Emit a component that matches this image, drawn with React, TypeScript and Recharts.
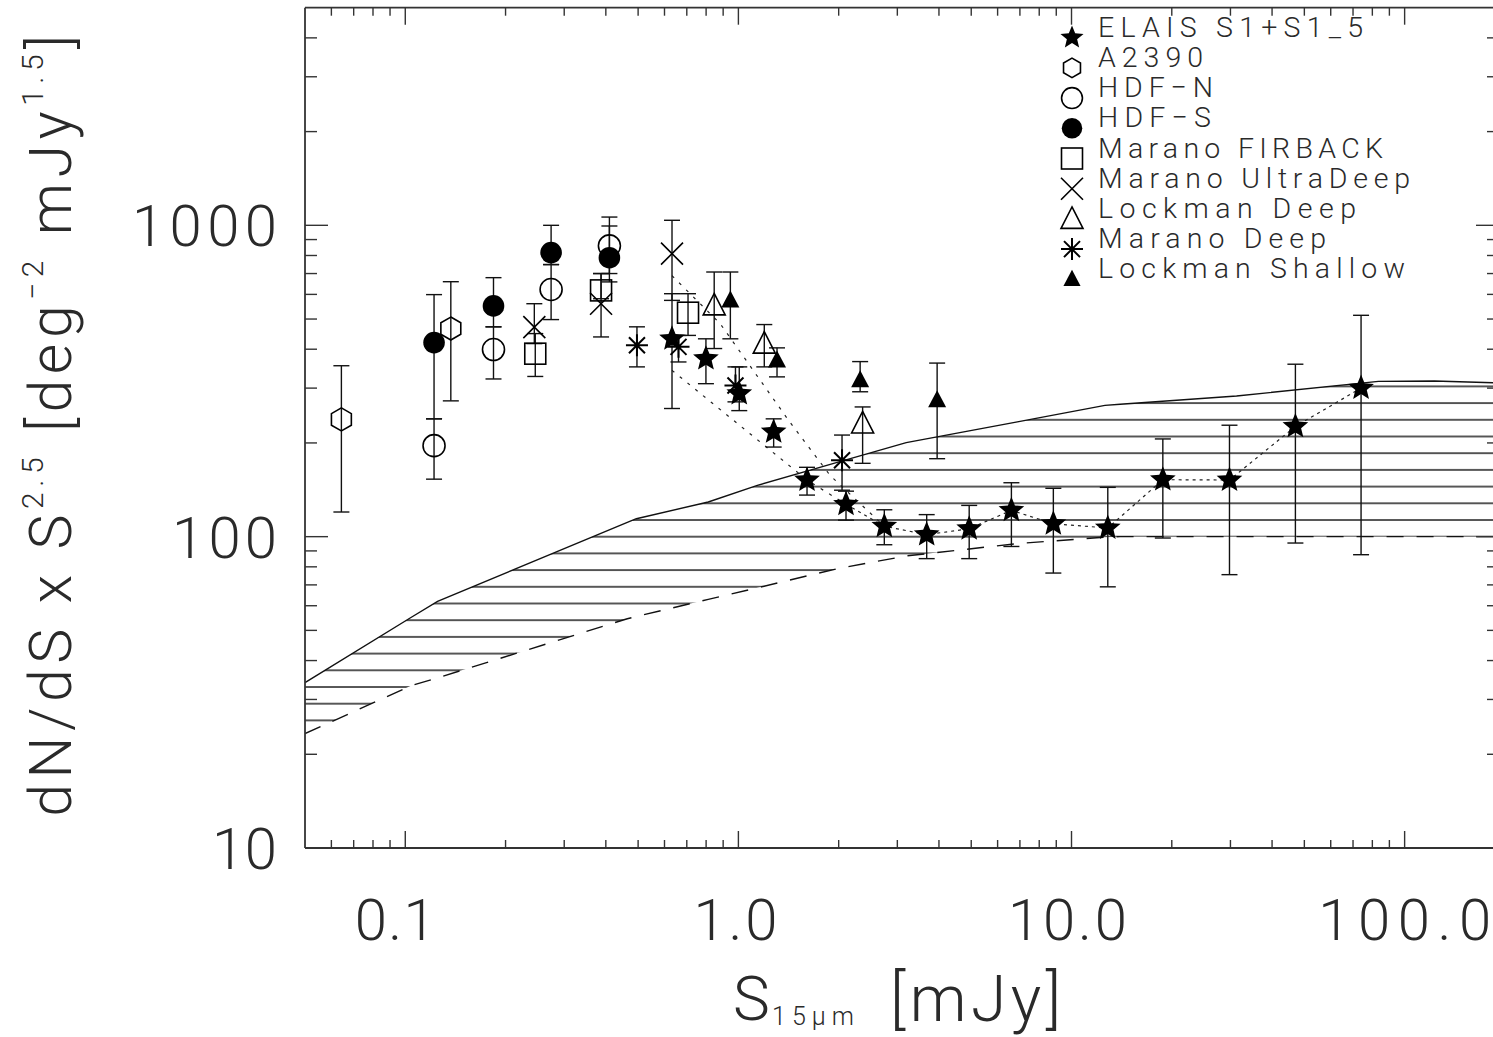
import React from 'react';
import { ComposedChart, XAxis, YAxis, Scatter, Line, Area, ErrorBar } from 'recharts';

// ---------------- data ----------------
const ELAIS_S = [0.632, 0.799, 1.006, 1.276, 1.607, 2.104, 2.742, 3.675, 4.93, 6.6, 8.82, 12.85, 18.8, 29.8, 47.0, 74.0];
const ELAIS_N = [432, 373, 288, 217, 152, 127, 108, 101.5, 106, 121.5, 110, 106.6, 152.4, 152, 226, 300];
const ELAIS_LO = [258, 310, 254, 194, 136, 113, 94.2, 85, 85, 93, 76.4, 69, 99, 75.5, 95.4, 87.5];
const ELAIS_HI = [603, 432, 351, 239, 167, 140, 122, 117.7, 126, 149, 143, 144, 206, 228, 358, 514];
const ELAIS_LINE_FROM = 5; // dotted connector starts at this ELAIS bin

const A2390_S = [0.0643, 0.137];
const A2390_N = [238, 466];
const A2390_LO = [120, 273];
const A2390_HI = [354, 659];

const HDFN_S = [0.122, 0.184, 0.274, 0.41];
const HDFN_N = [196, 399, 622, 859];
const HDFN_LO = [153, 321, 498, 700];
const HDFN_HI = [239, 472, 748, 1063];

const HDFS_S = [0.122, 0.184, 0.274, 0.41];
const HDFS_N = [420, 551, 817, 787];
const HDFS_LO = [239, 472, 748, 658];
const HDFS_HI = [599, 679, 1000, 995];

const FIRBACK_S = [0.2456, 0.387, 0.706];
const FIRBACK_N = [387, 618, 524];
const FIRBACK_LO = [327, 581, 443];
const FIRBACK_HI = [449, 700, 603];

const ULTRA_S = [0.244, 0.387, 0.632];
const ULTRA_N = [471, 560, 811];
const ULTRA_LO = [417, 438, 574];
const ULTRA_HI = [560, 700, 1038];

const LDEEP_S = [0.846, 1.196, 2.36];
const LDEEP_N = [553, 417, 231];
const LDEEP_LO = [402, 351, 172];
const LDEEP_HI = [708, 480, 261];

const MDEEP_S = [0.496, 0.661, 0.98, 2.047];
const MDEEP_N = [412, 407, 306, 176];
const MDEEP_LO = [351, 364, 271, 141];
const MDEEP_HI = [472, 443, 351, 212];

const LSHAL_S = [0.946, 1.306, 2.32, 3.95];
const LSHAL_N = [574, 368, 318, 274];
const LSHAL_LO = [432, 326, 292, 178];
const LSHAL_HI = [708, 404, 365, 361];

// dotted guide lines
const GUIDE_A_S = [0.632, 0.882, 1.42, 1.888, 2.742];
const GUIDE_A_N = [689, 483, 235, 157, 108];
const GUIDE_B_S = [0.632, 1.607, 2.104];
const GUIDE_B_N = [342, 152, 127];

// model band (upper solid / lower dashed)
const MODEL_S = [0.05, 0.104, 0.125, 0.464, 0.494, 0.812, 1.14, 1.98, 3.19, 6.88, 12.6, 14.0, 31.3, 83.4, 122.8, 200];
const MODEL_HI = [34.0, 55.0, 62.0, 111.2, 114.2, 129.2, 146.1, 173.3, 200.4, 233.7, 264.1, 266.2, 283.0, 315.4, 316.3, 311.2];
const MODEL_LO = [23.3, 33.2, 35.2, 54.5, 55.4, 62.9, 68.5, 78.9, 86.7, 95.0, 99.6, 100, 100, 100, 100, 100];

// axes
const X_DOMAIN = [0.05, 192];
const Y_DOMAIN = [10, 5000];
const X_MAJOR = [0.1, 1, 10, 100];
const X_LABELS = ['0.1', '1.0', '10.0', '100.0'];
const X_MINOR = [0.06, 0.07, 0.08, 0.09, 0.2, 0.3, 0.4, 0.5, 0.6, 0.7, 0.8, 0.9, 2, 3, 4, 5, 6, 7, 8, 9, 20, 30, 40, 50, 60, 70, 80, 90];
const Y_MAJOR = [10, 100, 1000];
const Y_LABELS = ['10', '100', '1000'];
const Y_MINOR = [20, 30, 40, 50, 60, 70, 80, 90, 200, 300, 400, 500, 600, 700, 800, 900, 2000, 3000, 4000];

const LEGEND_NAMES = ['ELAIS S1+S1_5', 'A2390', 'HDF\u2212N', 'HDF\u2212S', 'Marano FIRBACK', 'Marano UltraDeep', 'Lockman Deep', 'Marano Deep', 'Lockman Shallow'];

// ---------------- styles ----------------
const FONT = "Roboto, 'DejaVu Sans', Arial, sans-serif";
const INK = '#000';
const AXIS = '#333';
const TEXT = '#2a2a2a';
const X_LABEL_W = [81, 84, 119, 173];
const X_LABEL_DX = [-10, -3, -4, 0];
const Y_LABEL_W = [65, 105, 145];
const LEGEND_W = [265, 105, 115, 113, 285, 312, 258, 228, 307];
const LEGEND_KIND = ['star', 'hexagon', 'circle', 'disc', 'square', 'cross', 'triangle', 'asterisk', 'ftriangle'];
const LEGEND_SCALE = [0.9, 0.85, 0.95, 0.95, 1, 1, 1, 1, 0.95];

const W = 1510;
const H = 1037;
// axes are 1px thick, so plot area = x 305..1499, y 7.7..848
const MARGIN = { top: 6.7, right: 10, bottom: 188, left: 304 };

// ---------------- symbols ----------------
function starPath(cx: number, cy: number, R: number, r: number) {
  let d = '';
  for (let i = 0; i < 10; i++) {
    const a = -Math.PI / 2 + (i * Math.PI) / 5;
    const rad = i % 2 === 0 ? R : r;
    d += (i ? 'L' : 'M') + (cx + rad * Math.cos(a)).toFixed(2) + ',' + (cy + rad * Math.sin(a)).toFixed(2);
  }
  return d + 'Z';
}

function Sym({ kind, cx, cy, k = 1 }: { kind: string; cx: number; cy: number; k?: number }) {
  const sw = 1.6;
  if (cx == null || cy == null || isNaN(cx) || isNaN(cy)) return null;
  switch (kind) {
    case 'star':
      return <path d={starPath(cx, cy, 13.5 * k, 6 * k)} fill={INK} />;
    case 'hexagon': {
      const R = 11.5 * k;
      const pts = [0, 1, 2, 3, 4, 5]
        .map((i) => {
          const a = -Math.PI / 2 + (i * Math.PI) / 3;
          return `${(cx + R * Math.cos(a)).toFixed(2)},${(cy + R * Math.sin(a)).toFixed(2)}`;
        })
        .join(' ');
      return <polygon points={pts} fill="none" stroke={INK} strokeWidth={sw} />;
    }
    case 'circle':
      return <circle cx={cx} cy={cy} r={11 * k} fill="none" stroke={INK} strokeWidth={sw} />;
    case 'disc':
      return <circle cx={cx} cy={cy} r={10.8 * k} fill={INK} />;
    case 'square': {
      const h = 10.5 * k;
      return <rect x={cx - h} y={cy - h} width={2 * h} height={2 * h} fill="none" stroke={INK} strokeWidth={sw} />;
    }
    case 'cross': {
      const h = 11 * k;
      return (
        <path d={`M${cx - h},${cy - h}L${cx + h},${cy + h}M${cx - h},${cy + h}L${cx + h},${cy - h}`} stroke={INK} strokeWidth={sw} fill="none" />
      );
    }
    case 'triangle': {
      const h = 11 * k;
      return (
        <polygon points={`${cx},${cy - 12 * k} ${cx + h},${cy + 9.5 * k} ${cx - h},${cy + 9.5 * k}`} fill="none" stroke={INK} strokeWidth={sw} />
      );
    }
    case 'ftriangle': {
      const h = 9 * k;
      return <polygon points={`${cx},${cy - 10 * k} ${cx + h},${cy + 7 * k} ${cx - h},${cy + 7 * k}`} fill={INK} />;
    }
    case 'asterisk': {
      const h = 11 * k;
      const d = 8 * k;
      return (
        <path
          d={`M${cx},${cy - h}L${cx},${cy + h}M${cx - h},${cy}L${cx + h},${cy}M${cx - d},${cy - d}L${cx + d},${cy + d}M${cx - d},${cy + d}L${cx + d},${cy - d}`}
          stroke={INK}
          strokeWidth={2}
          fill="none"
        />
      );
    }
    default:
      return null;
  }
}

// ---------------- table building ----------------
function pts(s: number[], n: number[], lo: number[], hi: number[]) {
  return s.map((x, i) => ({ x, y: n[i], err: [n[i] - lo[i], hi[i] - n[i]] }));
}
function line(s: number[], n: number[]) {
  return s.map((x, i) => ({ x, y: n[i] }));
}

const SERIES = [
  { name: 'elais', kind: 'star', data: pts(ELAIS_S, ELAIS_N, ELAIS_LO, ELAIS_HI) },
  { name: 'a2390', kind: 'hexagon', data: pts(A2390_S, A2390_N, A2390_LO, A2390_HI) },
  { name: 'hdfn', kind: 'circle', data: pts(HDFN_S, HDFN_N, HDFN_LO, HDFN_HI) },
  { name: 'hdfs', kind: 'disc', data: pts(HDFS_S, HDFS_N, HDFS_LO, HDFS_HI) },
  { name: 'firback', kind: 'square', data: pts(FIRBACK_S, FIRBACK_N, FIRBACK_LO, FIRBACK_HI) },
  { name: 'ultra', kind: 'cross', data: pts(ULTRA_S, ULTRA_N, ULTRA_LO, ULTRA_HI) },
  { name: 'ldeep', kind: 'triangle', data: pts(LDEEP_S, LDEEP_N, LDEEP_LO, LDEEP_HI) },
  { name: 'mdeep', kind: 'asterisk', data: pts(MDEEP_S, MDEEP_N, MDEEP_LO, MDEEP_HI) },
  { name: 'lshal', kind: 'ftriangle', data: pts(LSHAL_S, LSHAL_N, LSHAL_LO, LSHAL_HI) },
];

const BAND = MODEL_S.map((x, i) => ({ x, band: [MODEL_LO[i], MODEL_HI[i]] }));
const MODEL_UP = line(MODEL_S, MODEL_HI);
const MODEL_DOWN = line(MODEL_S, MODEL_LO);
const ELAIS_LINE = line(ELAIS_S.slice(ELAIS_LINE_FROM), ELAIS_N.slice(ELAIS_LINE_FROM));
const GUIDE_A = line(GUIDE_A_S, GUIDE_A_N);
const GUIDE_B = line(GUIDE_B_S, GUIDE_B_N);

const X_ALL = [...X_MAJOR, ...X_MINOR].sort((a, b) => a - b);
const Y_ALL = [...Y_MAJOR, ...Y_MINOR].sort((a, b) => a - b);

const labelStyle = { fontFamily: FONT, fontWeight: 300, fill: TEXT } as const;

// ---------------- ticks ----------------
const BottomTick = (p: any) => {
  const v = p.payload?.value;
  const i = X_MAJOR.indexOf(v);
  const major = i >= 0;
  return (
    <g>
      <line x1={p.x} x2={p.x} y1={p.y} y2={p.y - (major ? 17 : 8)} stroke={AXIS} strokeWidth={1.4} />
      {major && (
        <text x={p.x + X_LABEL_DX[i]} y={p.y + 92} textAnchor="middle" fontSize={58} textLength={X_LABEL_W[i]} lengthAdjust="spacing" {...labelStyle}>
          {X_LABELS[i]}
        </text>
      )}
    </g>
  );
};
const TopTick = (p: any) => {
  const major = X_MAJOR.indexOf(p.payload?.value) >= 0;
  return <line x1={p.x} x2={p.x} y1={p.y} y2={p.y + (major ? 17 : 8)} stroke={AXIS} strokeWidth={1.4} />;
};
const LeftTick = (p: any) => {
  const v = p.payload?.value;
  const i = Y_MAJOR.indexOf(v);
  const major = i >= 0;
  return (
    <g>
      <line x1={p.x} x2={p.x + (major ? 23 : 12)} y1={p.y} y2={p.y} stroke={AXIS} strokeWidth={1.4} />
      {major && (
        <text x={p.x - 28} y={p.y + 21} textAnchor="end" fontSize={58} textLength={Y_LABEL_W[i]} lengthAdjust="spacing" {...labelStyle}>
          {Y_LABELS[i]}
        </text>
      )}
    </g>
  );
};
const RightTick = (p: any) => {
  const major = Y_MAJOR.indexOf(p.payload?.value) >= 0;
  return <line x1={p.x} x2={p.x - (major ? 23 : 12)} y1={p.y} y2={p.y} stroke={AXIS} strokeWidth={1.4} />;
};

const axisLine = { stroke: AXIS, strokeWidth: 1.8 };

export default function App() {
  return (
    <div style={{ position: 'absolute', left: 0, top: 0, width: 1493, height: 1037, overflow: 'hidden', background: '#fff' }}>
      <svg width={0} height={0} style={{ position: 'absolute' }}>
        <defs>
          <pattern id="hatch" patternUnits="userSpaceOnUse" x={0} y={1.3} width={20} height={16.7}>
            <line x1={0} x2={20} y1={1} y2={1} stroke="#111" strokeWidth={1.4} />
          </pattern>
        </defs>
      </svg>
      <ComposedChart width={W} height={H} margin={MARGIN}>
        <XAxis
          type="number"
          dataKey="x"
          scale="log"
          domain={X_DOMAIN}
          allowDataOverflow
          ticks={X_ALL}
          interval={0}
          tickSize={0}
          tickMargin={0}
          height={1}
          tickLine={false}
          axisLine={axisLine}
          tick={BottomTick}
        />
        <XAxis
          xAxisId="top"
          orientation="top"
          type="number"
          dataKey="x"
          scale="log"
          domain={X_DOMAIN}
          allowDataOverflow
          ticks={X_ALL}
          interval={0}
          tickSize={0}
          tickMargin={0}
          height={1}
          tickLine={false}
          axisLine={axisLine}
          tick={TopTick}
        />
        <YAxis
          type="number"
          scale="log"
          domain={Y_DOMAIN}
          allowDataOverflow
          ticks={Y_ALL}
          interval={0}
          tickSize={0}
          tickMargin={0}
          width={1}
          tickLine={false}
          axisLine={axisLine}
          tick={LeftTick}
        />
        <YAxis
          yAxisId="right"
          orientation="right"
          type="number"
          scale="log"
          domain={Y_DOMAIN}
          allowDataOverflow
          ticks={Y_ALL}
          interval={0}
          tickSize={0}
          tickMargin={0}
          width={1}
          tickLine={false}
          axisLine={axisLine}
          tick={RightTick}
        />

        <Area data={BAND} dataKey="band" type="linear" stroke="none" fill="url(#hatch)" fillOpacity={1} isAnimationActive={false} />
        <Line data={MODEL_UP} dataKey="y" type="linear" stroke="#111" strokeWidth={1.4} dot={false} activeDot={false} isAnimationActive={false} />
        <Line data={MODEL_DOWN} dataKey="y" type="linear" stroke="#111" strokeWidth={1.4} strokeDasharray="17 13" dot={false} activeDot={false} isAnimationActive={false} />
        <Line data={GUIDE_A} dataKey="y" type="linear" stroke="#222" strokeWidth={1.2} strokeDasharray="3 7" dot={false} activeDot={false} isAnimationActive={false} />
        <Line data={GUIDE_B} dataKey="y" type="linear" stroke="#222" strokeWidth={1.2} strokeDasharray="3 7" dot={false} activeDot={false} isAnimationActive={false} />
        <Line data={ELAIS_LINE} dataKey="y" type="linear" stroke="#222" strokeWidth={1.2} strokeDasharray="3 4" dot={false} activeDot={false} isAnimationActive={false} />

        {SERIES.map((s) => (
          <Scatter
            key={s.name}
            name={s.name}
            data={s.data}
            dataKey="y"
            isAnimationActive={false}
            shape={(p: any) => <Sym kind={s.kind} cx={p.cx} cy={p.cy} />}
          >
            <ErrorBar dataKey="err" direction="y" width={8} stroke="#111" strokeWidth={1.4} isAnimationActive={false} />
          </Scatter>
        ))}
      </ComposedChart>

      <svg width={1493} height={1037} style={{ position: 'absolute', left: 0, top: 0, pointerEvents: 'none' }}>
        {/* y-axis title */}
        <text transform="translate(71,423) rotate(-90)" textAnchor="middle" fontSize={59} {...labelStyle} letterSpacing={5.5}>
          dN/dS x S
          <tspan fontSize={30} dy={-28}>2.5</tspan>
          <tspan dy={28}> [deg</tspan>
          <tspan fontSize={30} dy={-28}>{'\u22122'}</tspan>
          <tspan dy={28}> mJy</tspan>
          <tspan fontSize={30} dy={-28}>1.5</tspan>
          <tspan dy={28}>]</tspan>
        </text>
        {/* x-axis title */}
        <text x={733} y={1020} fontSize={62} {...labelStyle}>S</text>
        <text x={772} y={1025} fontSize={25} textLength={82} lengthAdjust="spacing" {...labelStyle}>15μm</text>
        <text x={890} y={1021} fontSize={64} textLength={171} lengthAdjust="spacing" {...labelStyle}>[mJy]</text>

        {/* legend */}
        {LEGEND_NAMES.map((name, i) => {
          const base = 36.7 + 30.2 * i;
          return (
            <g key={name}>
              <Sym kind={LEGEND_KIND[i]} cx={1072} cy={base + 1} k={LEGEND_SCALE[i]} />
              <text x={1098} y={base} fontSize={28.5} textLength={LEGEND_W[i]} lengthAdjust="spacing" {...labelStyle}>
                {name}
              </text>
            </g>
          );
        })}
      </svg>
    </div>
  );
}
